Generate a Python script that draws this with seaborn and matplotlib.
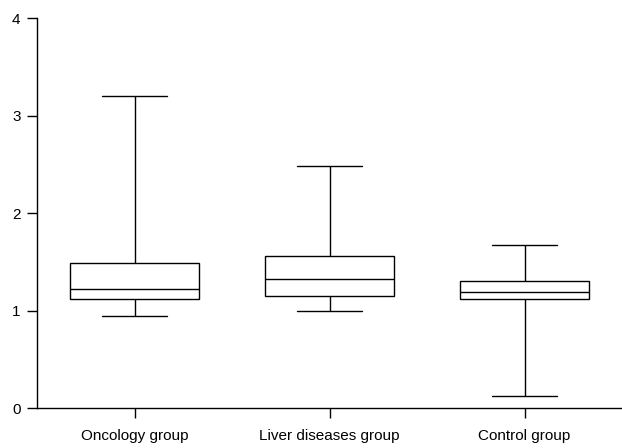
import matplotlib
matplotlib.use("Agg")
import matplotlib.pyplot as plt
import seaborn as sns
import pandas as pd

categories = ["Oncology group", "Liver diseases group", "Control group"]
# five-number summaries: min, q1, median, q3, max
oncology = [0.95, 1.12, 1.22, 1.49, 3.20]
liver = [1.00, 1.155, 1.33, 1.56, 2.48]
control = [0.13, 1.12, 1.19, 1.31, 1.67]
yticks = [0, 1, 2, 3, 4]

rows = []
for cat, vals in zip(categories, [oncology, liver, control]):
    for v in vals:
        rows.append({"group": cat, "value": v})
df = pd.DataFrame(rows)

sns.set_style("ticks")
plt.rcParams["font.family"] = ["Liberation Sans", "DejaVu Sans"]

fig = plt.figure(figsize=(6.22, 4.48), dpi=100)
ax = fig.add_axes([37 / 622, 39.7 / 448, 1 - 37 / 622, 390 / 448])

sns.boxplot(data=df, x="group", y="value", order=categories, whis=(0, 100),
            width=0.665, color="white", linecolor="black", linewidth=1.0,
            showfliers=False, saturation=1, ax=ax)

ax.set_xlim(-0.5, 2.5)
ax.set_ylim(0, 4)
ax.set_yticks(yticks)
ax.set_yticklabels([str(t) for t in yticks])
ax.set_xlabel("")
ax.set_ylabel("")
sns.despine(ax=ax)
for s in ["left", "bottom"]:
    ax.spines[s].set_linewidth(1.0)
    ax.spines[s].set_color("black")
ax.tick_params(axis="both", length=7.3, width=1.0, colors="black", labelsize=11)
ax.tick_params(axis="x", pad=7.5)
ax.tick_params(axis="y", pad=4.5)

fig.savefig("out.png", dpi=100)
